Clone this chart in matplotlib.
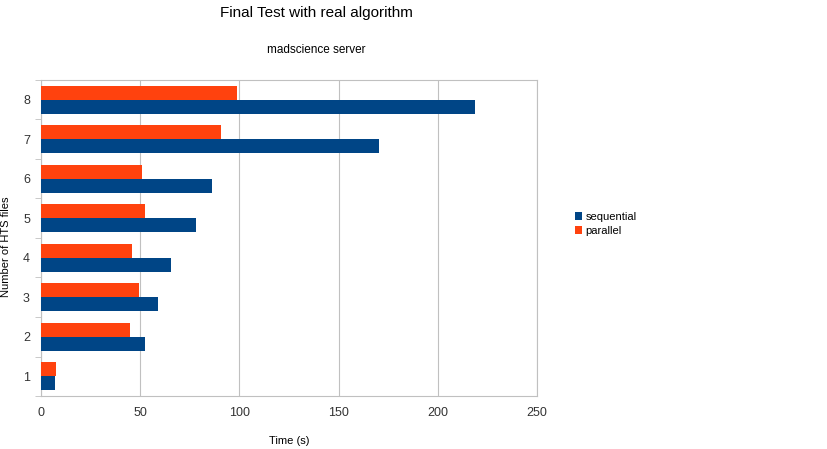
import matplotlib.pyplot as plt
import numpy as np

plt.rcParams['font.family'] = ['Liberation Sans', 'DejaVu Sans']

files = [1, 2, 3, 4, 5, 6, 7, 8]
sequential = [6.9, 52.3, 59.1, 65.7, 78.1, 86.3, 170.4, 218.7]
parallel = [7.6, 44.9, 49.4, 45.7, 52.4, 50.7, 90.7, 98.8]

fig = plt.figure(figsize=(8.27, 4.49), dpi=100)
ax = fig.add_axes([0.0496, 0.118, 0.6, 0.704])

y = np.arange(len(files))
h = 0.35
ax.barh(y - h / 2, sequential, height=h, color='#004586', label='sequential', zorder=3)
ax.barh(y + h / 2, parallel, height=h, color='#ff420e', label='parallel', zorder=3)

ax.set_xlim(0, 250)
ax.set_ylim(-0.5, len(files) - 0.5)
ax.set_xticks([0, 50, 100, 150, 200, 250])
ax.set_yticks(y)
ax.set_yticklabels(files)
ax.set_yticks(np.arange(-0.5, len(files), 1), minor=True)
ax.tick_params(axis='y', which='major', length=0, pad=8, labelsize=9, colors='#333333')
ax.tick_params(axis='y', which='minor', length=4, color='#c0c0c0')
ax.tick_params(axis='x', length=0, pad=8, labelsize=9, colors='#333333')
ax.grid(axis='x', color='#c0c0c0', linewidth=0.8, zorder=0)
for s in ax.spines.values():
    s.set_color('#c0c0c0')
    s.set_linewidth(0.8)

ax.set_xlabel('Time (s)', fontsize=8, labelpad=12)
fig.text(0.007, 0.45, 'Number of HTS files', rotation=90, fontsize=8, va='center', ha='center')
fig.text(0.383, 0.97, 'Final Test with real algorithm', fontsize=11, ha='center', va='center')
fig.text(0.383, 0.888, 'madscience server', fontsize=8.5, ha='center', va='center')

ax.legend(loc='center left', bbox_to_anchor=(1.055, 0.545), frameon=False, fontsize=8,
          handlelength=0.7, handleheight=0.7, handletextpad=0.3, labelspacing=0.4)

fig.savefig('out.png', dpi=100)
